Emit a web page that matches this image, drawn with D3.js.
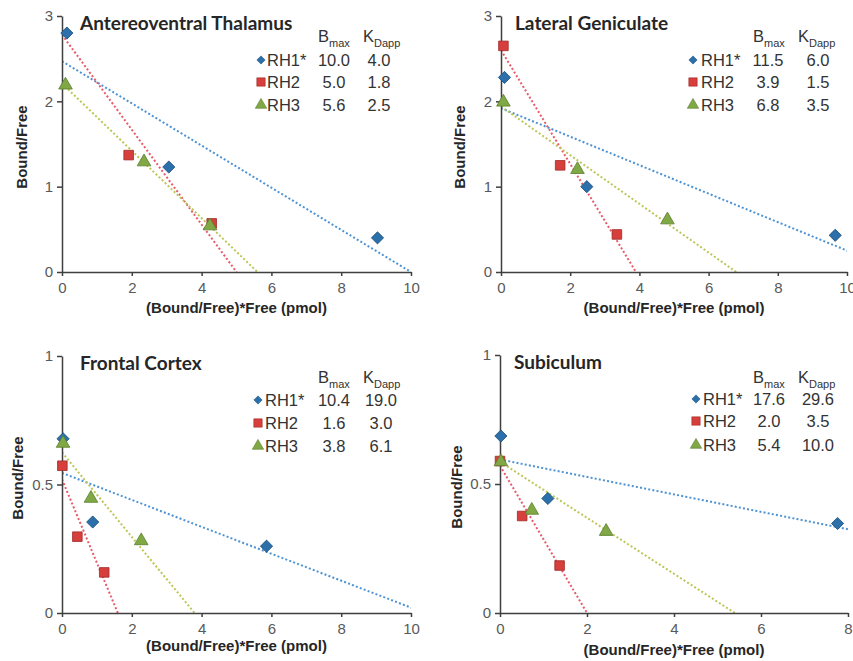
<!DOCTYPE html>
<html>
<head>
<meta charset="utf-8">
<script src="https://cdn.jsdelivr.net/npm/d3@7/dist/d3.min.js"></script>
<style>
  body { margin: 0; background: #fff; }
  svg { display: block; font-family: "Liberation Sans", Arial, sans-serif; }
</style>
</head>
<body>
<svg id="chart" width="853" height="661"></svg>
<script>
// ---- data ----
var seriesNames = ["RH1*", "RH2", "RH3"];

// Antereoventral Thalamus
var avtRH1 = [[0.14, 2.80], [3.06, 1.23], [9.04, 0.40]];
var avtRH2 = [[1.91, 1.37], [4.29, 0.57]];
var avtRH3 = [[0.10, 2.19], [2.35, 1.29], [4.24, 0.54]];
var avtBmax = ["10.0", "5.0", "5.6"];
var avtKd = ["4.0", "1.8", "2.5"];
var avtFitY0 = [2.47, 2.78, 2.21];   // fitted line value at x = 0

// Lateral Geniculate
var lgnRH1 = [[0.10, 2.28], [2.48, 1.00], [9.66, 0.43]];
var lgnRH2 = [[0.07, 2.65], [1.71, 1.25], [3.35, 0.44]];
var lgnRH3 = [[0.07, 1.99], [2.21, 1.20], [4.81, 0.61]];
var lgnBmax = ["11.5", "3.9", "6.8"];
var lgnKd = ["6.0", "1.5", "3.5"];
var lgnFitY0 = [1.92, 2.60, 1.94];

// Frontal Cortex
var fcxRH1 = [[0.03, 0.678], [0.88, 0.354], [5.86, 0.26]];
var fcxRH2 = [[0.01, 0.573], [0.44, 0.297], [1.21, 0.158]];
var fcxRH3 = [[0.03, 0.66], [0.83, 0.446], [2.27, 0.281]];
var fcxBmax = ["10.4", "1.6", "3.8"];
var fcxKd = ["19.0", "3.0", "6.1"];
var fcxFitY0 = [0.545, 0.52, 0.625];

// Subiculum
var subRH1 = [[0.02, 0.686], [1.10, 0.444], [7.76, 0.347]];
var subRH2 = [[0.00, 0.589], [0.51, 0.376], [1.37, 0.184]];
var subRH3 = [[0.02, 0.586], [0.73, 0.398], [2.44, 0.316]];
var subBmax = ["17.6", "2.0", "5.4"];
var subKd = ["29.6", "3.5", "10.0"];
var subFitY0 = [0.595, 0.571, 0.586];

var xTicks10 = [0, 2, 4, 6, 8, 10];
var xTicks8 = [0, 2, 4, 6, 8];
var yTicks3 = [0, 1, 2, 3];
var yTicks1 = [0, 0.5, 1];

// ---- styles ----
var markFill = ["#2b70ab", "#d63f3b", "#80a845"];
var markStroke = ["#1c4f7c", "#9e2b28", "#5a7d2d"];
var lineColor = ["#4d93d3", "#e65b6b", "#bdc655"];
var symbolType = [d3.symbolSquare, d3.symbolSquare, d3.symbolTriangle];
var symbolRotate = [45, 0, 0];
var symbolSize = [74, 92, 80];
var legendSize = [34, 70, 56];

var panels = [
  { title: "Antereoventral Thalamus", series: [avtRH1, avtRH2, avtRH3], bmax: avtBmax, kd: avtKd, fitY0: avtFitY0,
    xMax: 10, xTicks: xTicks10, yMax: 3, yTicks: yTicks3,
    left: 62, right: 411, top: 16, bottom: 272, titleDx: 18, xTitleDy: 41, yTitleDx: -40, yTitleCy: 147,
    leg: { mark: 199, name: 205, v1: 272, v2: 317, hB: 256, hK: 301, hy: 26, rows: [50, 72, 95] } },
  { title: "Lateral Geniculate", series: [lgnRH1, lgnRH2, lgnRH3], bmax: lgnBmax, kd: lgnKd, fitY0: lgnFitY0,
    xMax: 10, xTicks: xTicks10, yMax: 3, yTicks: yTicks3,
    left: 501, right: 847, top: 16, bottom: 272, titleDx: 14, xTitleDy: 41, yTitleDx: -41, yTitleCy: 147,
    leg: { mark: 192, name: 200, v1: 267, v2: 317, hB: 252, hK: 297, hy: 26, rows: [50, 72, 95] } },
  { title: "Frontal Cortex", series: [fcxRH1, fcxRH2, fcxRH3], bmax: fcxBmax, kd: fcxKd, fitY0: fcxFitY0,
    xMax: 10, xTicks: xTicks10, yMax: 1, yTicks: yTicks1,
    left: 62, right: 411, top: 356, bottom: 613, titleDx: 18, xTitleDy: 38, yTitleDx: -44, yTitleCy: 478,
    leg: { mark: 196, name: 203, v1: 272, v2: 319, hB: 256, hK: 301, hy: 27, rows: [50, 73, 96] } },
  { title: "Subiculum", series: [subRH1, subRH2, subRH3], bmax: subBmax, kd: subKd, fitY0: subFitY0,
    xMax: 8, xTicks: xTicks8, yMax: 1, yTicks: yTicks1,
    left: 500, right: 848, top: 355, bottom: 613, titleDx: 14, xTitleDy: 42, yTitleDx: -43, yTitleCy: 487,
    leg: { mark: 196, name: 203, v1: 269, v2: 318, hB: 253, hK: 298, hy: 28, rows: [50, 72, 96] } }
];

var svg = d3.select("#chart");

panels.forEach(function(p, pi) {
  var w = p.right - p.left, h = p.bottom - p.top;
  var x = d3.scaleLinear().domain([0, p.xMax]).range([0, w]);
  var y = d3.scaleLinear().domain([0, p.yMax]).range([h, 0]);

  var g = svg.append("g").attr("transform", "translate(" + p.left + "," + p.top + ")");

  svg.append("clipPath").attr("id", "clip" + pi)
    .append("rect").attr("width", w).attr("height", h + 1).attr("y", -1);

  // fitted lines (dotted)
  var lines = g.append("g").attr("clip-path", "url(#clip" + pi + ")");
  p.fitY0.forEach(function(y0, i) {
    var b = +p.bmax[i];
    lines.append("line")
      .attr("x1", x(0)).attr("y1", y(y0))
      .attr("x2", x(b)).attr("y2", y(0))
      .attr("stroke", lineColor[i])
      .attr("stroke-width", 2)
      .attr("stroke-dasharray", "2,2.2");
  });

  // axes
  g.append("g").attr("class", "axis")
    .attr("transform", "translate(0," + h + ")")
    .call(d3.axisBottom(x).tickValues(p.xTicks).tickSize(4).tickSizeOuter(0).tickPadding(6).tickFormat(d3.format("")));
  g.append("g").attr("class", "axis")
    .call(d3.axisLeft(y).tickValues(p.yTicks).tickSize(5).tickSizeOuter(0).tickPadding(4).tickFormat(d3.format("")));
  g.selectAll(".axis path, .axis line").attr("stroke", "#3f3f3f").attr("stroke-width", 1.5);
  g.selectAll(".axis text").attr("fill", "#595959").attr("font-size", 15)
    .attr("font-family", "'Liberation Sans', Arial, sans-serif");

  // points
  p.series.forEach(function(pts, i) {
    g.append("g").selectAll("path")
      .data(pts)
      .enter().append("path")
        .attr("d", d3.symbol().type(symbolType[i]).size(symbolSize[i]))
        .attr("transform", function(d) {
          return "translate(" + x(d[0]) + "," + y(d[1]) + ") rotate(" + symbolRotate[i] + ")";
        })
        .attr("fill", markFill[i])
        .attr("stroke", markStroke[i])
        .attr("stroke-width", 0.8);
  });

  // panel title
  g.append("text")
    .attr("x", p.titleDx).attr("y", 14)
    .attr("font-family", "Lato, 'Open Sans', sans-serif")
    .attr("font-weight", "bold").attr("font-size", 19)
    .attr("fill", "#262626")
    .text(p.title);

  // axis titles
  g.append("text")
    .attr("x", w / 2).attr("y", h + p.xTitleDy)
    .attr("text-anchor", "middle")
    .attr("font-weight", "bold").attr("font-size", 15).attr("fill", "#262626")
    .text("(Bound/Free)*Free (pmol)");
  g.append("text")
    .attr("transform", "translate(" + p.yTitleDx + "," + (p.yTitleCy - p.top) + ") rotate(-90)")
    .attr("text-anchor", "middle").attr("dy", "0.35em")
    .attr("font-weight", "bold").attr("font-size", 15).attr("fill", "#262626")
    .text("Bound/Free");

  // legend table
  var L = p.leg;
  var tbl = g.append("g").attr("font-size", 16.5).attr("fill", "#333");
  var hB = tbl.append("text").attr("x", L.hB).attr("y", L.hy);
  hB.append("tspan").text("B");
  hB.append("tspan").attr("dy", 5).attr("font-size", 11).text("max");
  var hK = tbl.append("text").attr("x", L.hK).attr("y", L.hy);
  hK.append("tspan").text("K");
  hK.append("tspan").attr("dy", 5).attr("font-size", 11).text("Dapp");

  seriesNames.forEach(function(name, i) {
    var ry = L.rows[i];
    tbl.append("path")
      .attr("d", d3.symbol().type(symbolType[i]).size(legendSize[i]))
      .attr("transform", "translate(" + L.mark + "," + (ry - 6) + ") rotate(" + symbolRotate[i] + ")")
      .attr("fill", markFill[i]).attr("stroke", markStroke[i]).attr("stroke-width", 0.6);
    tbl.append("text").attr("x", L.name).attr("y", ry).text(name);
    tbl.append("text").attr("x", L.v1).attr("y", ry).attr("text-anchor", "middle").text(p.bmax[i]);
    tbl.append("text").attr("x", L.v2).attr("y", ry).attr("text-anchor", "middle").text(p.kd[i]);
  });
});
</script>
</body>
</html>
